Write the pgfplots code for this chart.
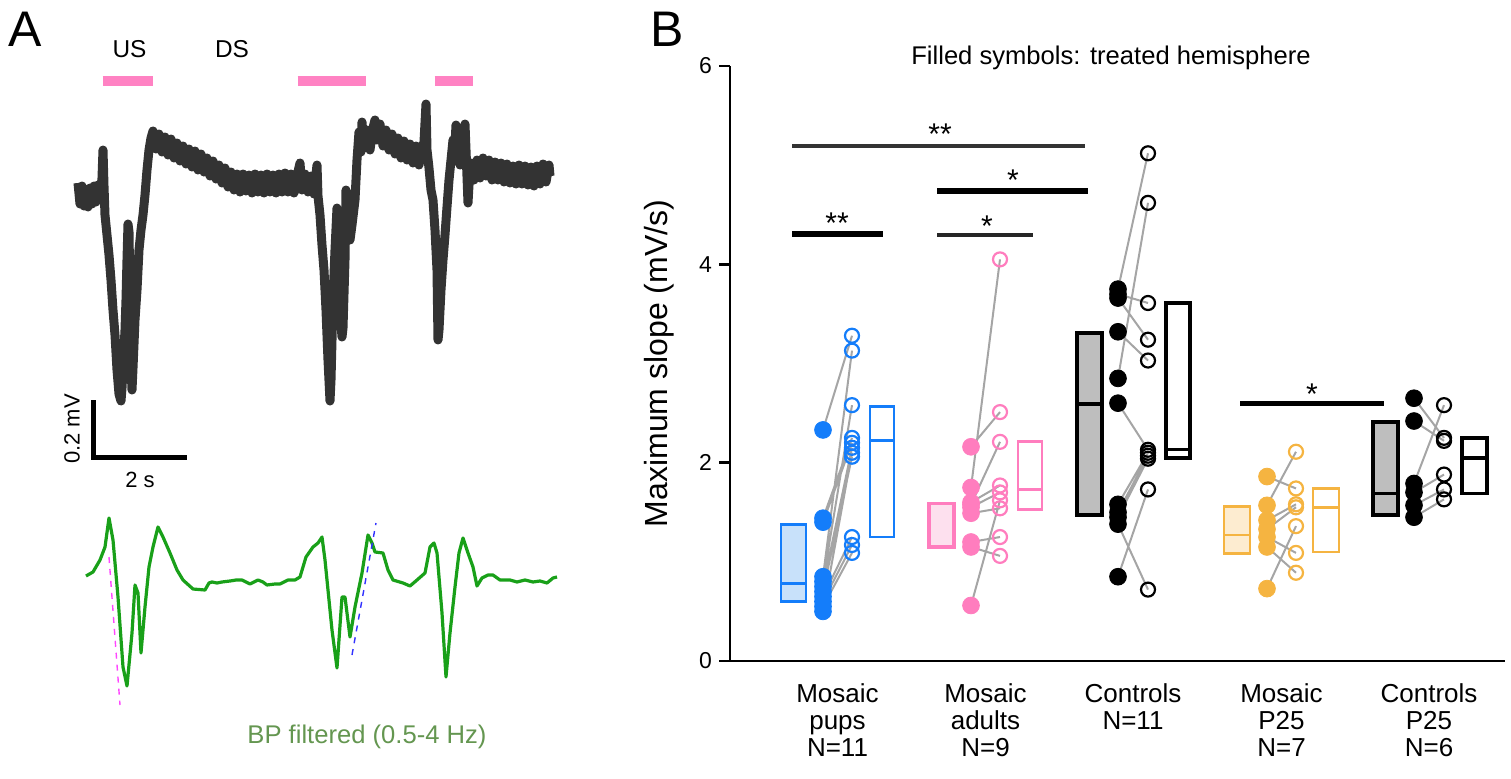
\documentclass[border=0pt]{standalone}
\usepackage{fontspec}
\setmainfont{Liberation Sans}
\usepackage{pgfplots}
\usepackage{pgfplotstable}
\pgfplotsset{compat=1.18}

\definecolor{bluC}{RGB}{20,125,250}
\definecolor{bluF}{RGB}{200,225,250}
\definecolor{pinC}{RGB}{255,125,190}
\definecolor{pinF}{RGB}{253,224,238}
\definecolor{oraC}{RGB}{245,180,65}
\definecolor{oraF}{RGB}{253,236,208}
\definecolor{grF}{RGB}{190,190,190}
\definecolor{lnC}{RGB}{165,165,165}
\definecolor{trC}{RGB}{51,51,51}
\definecolor{grnC}{RGB}{25,160,25}
\definecolor{grnT}{RGB}{100,150,80}
\definecolor{barP}{RGB}{255,130,195}
\definecolor{magC}{RGB}{255,70,255}
\definecolor{bluD}{RGB}{50,50,255}

% paired values: f = treated (filled), o = untreated (open)
\pgfplotstableread{
f o
2.33 3.28
1.44 2.25
1.40 2.20
0.85 3.13
0.80 2.58
0.75 2.15
0.70 2.06
0.65 1.25
0.60 1.17
0.55 1.09
0.50 2.10
}\pups
\pgfplotstableread{
f o
1.75 4.05
2.16 2.51
1.58 2.21
1.60 1.77
1.55 1.70
1.49 1.54
1.20 1.25
1.15 1.06
0.56 1.62
}\adults
\pgfplotstableread{
f o
3.75 5.12
2.85 4.62
3.70 3.61
3.32 3.03
3.66 3.24
2.60 2.13
1.58 2.10
1.50 2.07
1.45 2.04
1.38 0.72
0.85 1.73
}\ctrl
\pgfplotstableread{
f o
1.57 2.11
1.86 1.74
1.42 1.58
1.33 1.55
0.73 1.36
1.25 1.09
1.15 0.89
}\mosP
\pgfplotstableread{
f o
2.65 2.25
2.42 2.22
1.79 2.58
1.70 1.88
1.57 1.73
1.45 1.63
}\ctrlP

\pgfplotsset{
  lnk/.style={lnC, line width=1pt, unbounded coords=jump},
  fdot/.style={only marks, mark=*, mark size=4.2pt, color=#1},
  odot/.style={only marks, mark=o, mark size=3.5pt, color=#1, mark options={line width=1.1pt}},
}

\begin{document}
\begin{tikzpicture}
\path[use as bounding box] (0,0) rectangle (755.5pt,-389.5pt);

% ---------------- Panel A (canvas in pixel units) ----------------
\begin{axis}[
  at={(0pt,0pt)}, anchor=north west,
  width=755.5pt, height=389.5pt, scale only axis,
  xmin=0, xmax=1511, ymin=0, ymax=779, y dir=reverse,
  hide axis, clip=false,
]
% stimulus bars
\addplot[barP, line width=5pt] coordinates {(102.5,81) (153,81)};
\addplot[barP, line width=5pt] coordinates {(297.5,81) (366,81)};
\addplot[barP, line width=5pt] coordinates {(434.5,81) (472.5,81)};
% raw trace
\addplot[trC, line width=4.5pt, line join=round] table {
x y
78 183
80 204
82 186
84 206
86 190
88 207
90 188
92 204
94 186
96 202
98 185
100 198
102 178
103 150
104 186
105 215
107 235
109 255
111 280
113 310
115 335
117 370
119 394
121 401
122 388
123 370
125 330
126 300
127 260
128 224
129 232
130 300
131 365
132 390
133 368
135 320
137 290
139 250
141 230
143 215
145 195
147 170
149 150
151 138
153 131
156 149
159 134
162 152
165 137
168 155
171 139
174 158
177 143
180 161
183 146
186 164
189 149
192 167
195 151
198 170
201 154
204 172
207 158
210 176
213 161
216 179
219 165
222 183
225 168
228 187
231 172
234 190
237 174
240 192
243 174
246 191
249 175
252 193
255 174
258 192
261 175
264 193
267 174
270 192
273 175
276 193
279 174
282 192
285 173
288 192
291 174
294 193
297 176
300 163
302 190
305 174
308 192
311 176
314 194
317 165
318 196
320 215
322 245
324 270
326 310
328 360
330 401
331 380
333 300
335 250
337 208
338 240
340 310
342 337
343 328
345 260
346 190
348 220
350 240
352 225
355 200
357 160
359 132
361 152
362 122
364 148
367 130
370 150
373 128
375 120
377 140
380 124
383 146
386 130
389 150
392 134
395 154
398 138
401 158
404 141
407 160
410 144
413 163
416 146
419 165
422 148
424 142
426 104
427 150
429 168
431 190
433 200
435 230
437 270
438 340
439 330
441 290
443 260
445 235
447 207
449 180
451 160
453 140
455 145
456 125
458 150
460 165
462 150
464 140
465 124
466 150
468 203
469 185
471 163
474 180
477 160
480 178
483 158
486 176
489 160
492 180
495 162
498 180
501 163
504 182
507 164
510 183
513 166
516 184
519 165
522 184
525 166
528 185
531 167
534 186
537 166
540 184
543 164
546 182
549 165
550 176
};
% scale bars
\addplot[black, line width=2.5pt] coordinates {(93,400) (93,457) (187,457)};
% filtered trace
\addplot[grnC, line width=1.6pt, line join=round] table {
x y
86 576
93 572
100 560
105 547
109 518
113 540
118 597
123 667
127 686
132 633
135 585
138 593
141 653
145 607
149 567
153 547
158 527
163 537
170 553
177 570
183 580
193 589
205 590
209 583
212 582
217 583
222 582
230 581
236 580
242 580
250 584
258 580
263 582
267 585
275 584
280 584
288 580
295 580
300 577
306 557
313 547
318 543
322 537
325 560
332 630
337 668
342 597
345 597
350 637
355 607
362 573
368 535
372 543
375 552
383 553
388 570
393 580
403 583
410 586
417 580
425 573
430 547
434 543
437 553
442 613
446 677
450 633
455 587
459 553
463 538
468 553
473 567
477 586
482 578
488 575
493 575
500 580
510 580
517 582
525 580
533 582
540 581
547 583
553 578
557 577
};
% slope lines
\addplot[magC, dashed, line width=0.7pt] coordinates {(109,557) (120,705)};
\addplot[bluD, dashed, line width=0.7pt] coordinates {(352,655) (376,523)};
% texts
\node[font=\fontsize{25}{25}\selectfont] at (axis cs:25,29) {A};
\node[font=\fontsize{25}{25}\selectfont] at (axis cs:667,29) {B};
\node[font=\fontsize{12.2}{12.2}\selectfont] at (axis cs:129.5,49) {US};
\node[font=\fontsize{12.2}{12.2}\selectfont] at (axis cs:232,49) {DS};
\node[rotate=90, font=\fontsize{11}{11}\selectfont] at (axis cs:72,429) {0.2 mV};
\node[font=\fontsize{11}{11}\selectfont] at (axis cs:140,480) {2 s};
\node[text=grnT, font=\fontsize{12.8}{12.8}\selectfont] at (axis cs:367,737) {BP filtered (0.5-4 Hz)};
\end{axis}

% ---------------- Panel B ----------------
\begin{axis}[
  at={(365pt,-330.5pt)}, anchor=south west,
  width=387.5pt, height=297.5pt, scale only axis,
  xmin=730, xmax=1505, ymin=0, ymax=6, enlargelimits=false,
  axis x line*=bottom, axis y line*=left,
  axis line style={line width=1.3pt, -},
  ytick={0,2,4,6},
  ytick style={line width=1.3pt, black},
  tick align=outside, major tick length=5.5pt,
  xtick={837.5,985.5,1133,1281.5,1429},
  xticklabels={{Mosaic\\pups\\N=11},{Mosaic\\adults\\N=9},{Controls\\N=11},{Mosaic\\P25\\N=7},{Controls\\P25\\N=6}},
  xtick style={draw=none},
  x tick label style={align=center, font=\fontsize{13}{13.5}\selectfont, yshift=-2.5pt},
  y tick label style={font=\fontsize{11.5}{12}\selectfont},
  /pgf/number format/assume math mode=true,
  ylabel={Maximum slope (mV/s)},
  ylabel style={font=\fontsize{16}{16}\selectfont, at={(axis description cs:-0.0916,0.5)}, anchor=center},
  title={Filled symbols: treated hemisphere},
  every axis title shift=0pt,
  title style={font=\fontsize{12.8}{13}\selectfont, at={(axis description cs:0.4916,1.0134)}, anchor=center},
  clip=false,
]
% boxes: interquartile range with median line
\addplot[draw=bluC, fill=bluF, line width=1.4pt, line cap=rect] coordinates {(781,0.60) (806,0.60) (806,1.38) (781,1.38) (781,0.60)};
\addplot[bluC, line width=1.4pt] coordinates {(781,0.78) (806,0.78)};
\addplot[draw=bluC, fill=white, line width=1.4pt, line cap=rect] coordinates {(870,1.25) (894,1.25) (894,2.57) (870,2.57) (870,1.25)};
\addplot[bluC, line width=1.4pt] coordinates {(870,2.22) (894,2.22)};
\addplot[draw=pinC, fill=pinF, line width=1.6pt, line cap=rect] coordinates {(929,1.15) (954,1.15) (954,1.59) (929,1.59) (929,1.15)};
\addplot[draw=pinC, fill=white, line width=1.4pt, line cap=rect] coordinates {(1018,1.53) (1042,1.53) (1042,2.21) (1018,2.21) (1018,1.53)};
\addplot[pinC, line width=1.4pt] coordinates {(1018,1.73) (1042,1.73)};
\addplot[draw=black, fill=grF, line width=1.8pt, line cap=rect] coordinates {(1077,1.47) (1102,1.47) (1102,3.31) (1077,3.31) (1077,1.47)};
\addplot[black, line width=1.8pt] coordinates {(1077,2.59) (1102,2.59)};
\addplot[draw=black, fill=white, line width=1.8pt, line cap=rect] coordinates {(1166,2.05) (1190,2.05) (1190,3.61) (1166,3.61) (1166,2.05)};
\addplot[black, line width=1.3pt] coordinates {(1166,2.13) (1190,2.13)};
\addplot[draw=oraC, fill=oraF, line width=1.4pt, line cap=rect] coordinates {(1224,1.08) (1250,1.08) (1250,1.56) (1224,1.56) (1224,1.08)};
\addplot[oraC, line width=1.4pt] coordinates {(1224,1.27) (1250,1.27)};
\addplot[draw=oraC, fill=white, line width=1.4pt, line cap=rect] coordinates {(1313,1.10) (1339,1.10) (1339,1.74) (1313,1.74) (1313,1.10)};
\addplot[oraC, line width=1.4pt] coordinates {(1313,1.55) (1339,1.55)};
\addplot[draw=black, fill=grF, line width=1.8pt, line cap=rect] coordinates {(1373,1.47) (1398,1.47) (1398,2.41) (1373,2.41) (1373,1.47)};
\addplot[black, line width=1.8pt] coordinates {(1373,1.69) (1398,1.69)};
\addplot[draw=black, fill=white, line width=1.8pt, line cap=rect] coordinates {(1462,1.69) (1487,1.69) (1487,2.25) (1462,2.25) (1462,1.69)};
\addplot[black, line width=1.8pt] coordinates {(1462,2.05) (1487,2.05)};

% paired lines (treated -> untreated)
\addplot[lnk] coordinates {(823,2.33) (852,3.28) (nan,nan) (823,1.44) (852,2.25) (nan,nan) (823,1.40) (852,2.20) (nan,nan) (823,0.85) (852,3.13) (nan,nan) (823,0.80) (852,2.58) (nan,nan) (823,0.75) (852,2.15) (nan,nan) (823,0.70) (852,2.06) (nan,nan) (823,0.65) (852,1.25) (nan,nan) (823,0.60) (852,1.17) (nan,nan) (823,0.55) (852,1.09) (nan,nan) (823,0.50) (852,2.10)};
\addplot[lnk] coordinates {(971,1.75) (1000,4.05) (nan,nan) (971,2.16) (1000,2.51) (nan,nan) (971,1.58) (1000,2.21) (nan,nan) (971,1.60) (1000,1.77) (nan,nan) (971,1.55) (1000,1.70) (nan,nan) (971,1.49) (1000,1.54) (nan,nan) (971,1.20) (1000,1.25) (nan,nan) (971,1.15) (1000,1.06) (nan,nan) (971,0.56) (1000,1.62)};
\addplot[lnk] coordinates {(1118,3.75) (1148,5.12) (nan,nan) (1118,2.85) (1148,4.62) (nan,nan) (1118,3.70) (1148,3.61) (nan,nan) (1118,3.32) (1148,3.03) (nan,nan) (1118,3.66) (1148,3.24) (nan,nan) (1118,2.60) (1148,2.13) (nan,nan) (1118,1.58) (1148,2.10) (nan,nan) (1118,1.50) (1148,2.07) (nan,nan) (1118,1.45) (1148,2.04) (nan,nan) (1118,1.38) (1148,0.72) (nan,nan) (1118,0.85) (1148,1.73)};
\addplot[lnk] coordinates {(1267,1.57) (1296,2.11) (nan,nan) (1267,1.86) (1296,1.74) (nan,nan) (1267,1.42) (1296,1.58) (nan,nan) (1267,1.33) (1296,1.55) (nan,nan) (1267,0.73) (1296,1.36) (nan,nan) (1267,1.25) (1296,1.09) (nan,nan) (1267,1.15) (1296,0.89)};
\addplot[lnk] coordinates {(1414,2.65) (1444,2.25) (nan,nan) (1414,2.42) (1444,2.22) (nan,nan) (1414,1.79) (1444,2.58) (nan,nan) (1414,1.70) (1444,1.88) (nan,nan) (1414,1.57) (1444,1.73) (nan,nan) (1414,1.45) (1444,1.63)};

% dots
\addplot[fdot=bluC] table[x expr=823, y=f] {\pups};
\addplot[odot=bluC] table[x expr=852, y=o] {\pups};
\addplot[fdot=pinC] table[x expr=971, y=f] {\adults};
\addplot[odot=pinC] table[x expr=1000, y=o] {\adults};
\addplot[fdot=black] table[x expr=1118, y=f] {\ctrl};
\addplot[odot=black] table[x expr=1148, y=o] {\ctrl};
\addplot[fdot=oraC] table[x expr=1267, y=f] {\mosP};
\addplot[odot=oraC] table[x expr=1296, y=o] {\mosP};
\addplot[fdot=black] table[x expr=1414, y=f] {\ctrlP};
\addplot[odot=black] table[x expr=1444, y=o] {\ctrlP};

% significance bars
\addplot[black!80, line width=2pt] coordinates {(792,5.19) (1085,5.19)};
\addplot[black, line width=3pt] coordinates {(937,4.74) (1088,4.74)};
\addplot[black, line width=3pt] coordinates {(792,4.31) (883,4.31)};
\addplot[black!85, line width=2pt] coordinates {(937,4.30) (1033,4.30)};
\addplot[black, line width=2.5pt] coordinates {(1240,2.60) (1384,2.60)};
\node[font=\fontsize{15}{15}\selectfont, anchor=base, yshift=-8.6pt] at (axis cs:940,5.385) {**};
\node[font=\fontsize{15}{15}\selectfont, anchor=base, yshift=-8.6pt] at (axis cs:1013,4.92) {*};
\node[font=\fontsize{15}{15}\selectfont, anchor=base, yshift=-8.6pt] at (axis cs:837,4.48) {**};
\node[font=\fontsize{15}{15}\selectfont, anchor=base, yshift=-8.6pt] at (axis cs:987,4.45) {*};
\node[font=\fontsize{15}{15}\selectfont, anchor=base, yshift=-8.6pt] at (axis cs:1312,2.76) {*};
\end{axis}
\end{tikzpicture}
\end{document}
